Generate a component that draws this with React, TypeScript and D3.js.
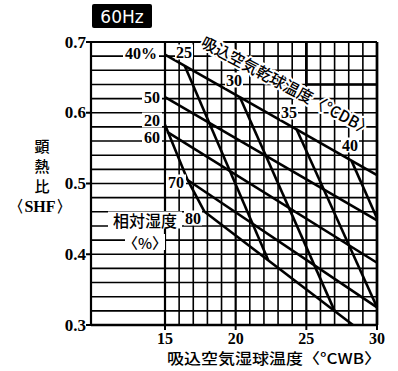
import React from "react";
import * as d3 from "d3";

// ---- data ----
const wbTicks = [15, 20, 25, 30];
const shfTicks = [0.3, 0.4, 0.5, 0.6, 0.7];
const wbGrid = d3.range(15, 31, 1);
const shfGrid = d3.range(0, 21).map((i) => +(0.3 + i * 0.02).toFixed(2));

// constant relative humidity lines [WB, SHF]
const rh40 = [[15, 0.682], [30, 0.512]];
const rh50 = [[15, 0.622], [30, 0.448]];
const rh60 = [[15.15, 0.573], [30, 0.388]];
const rh70 = [[16.6, 0.505], [30, 0.325]];
const rh80 = [[17.8, 0.46], [28.3, 0.3]];

// constant dry-bulb lines [WB, SHF]
const db20 = [[15, 0.583], [16.6, 0.505], [17.8, 0.46]];
const db25 = [[16.4, 0.666], [22.3, 0.392]];
const db30 = [[20.3, 0.622], [27.0, 0.32]];
const db35 = [[24.3, 0.577], [30, 0.325]];
const db40 = [[28.2, 0.532], [30, 0.451]];

const rhLines = [rh40, rh50, rh60, rh70, rh80];
const dbLines = [db20, db25, db30, db35, db40];

// heavier grid step seen at the upper right
const heavyStep = [[25, 0.7], [25, 0.64], [30, 0.64]];

const title = "60Hz";
const xTitle = "吸込空気湿球温度〈°CWB〉";
const yTitleChars = ["顕", "熱", "比"];
const yTitleUnit = "〈SHF〉";
const dbTitle = "吸込空気乾球温度〈°CDB〉";
const rhTitle = "相対湿度";
const rhUnit = "〈%〉";

const rhLabelText = ["40%", "50", "60", "70", "80"];
const dbLabelText = ["20", "25", "30", "35", "40"];

// ---- layout ----
const W = 398;
const H = 371;
const x = d3.scaleLinear().domain([15, 30]).range([165, 377]);
const y = d3.scaleLinear().domain([0.3, 0.7]).range([325, 42]);
const xLeft = 91;

const numFont = "'Liberation Serif', 'DejaVu Serif', serif";
const cjkFont = "'Noto Sans CJK JP', 'Noto Sans', sans-serif";

const line = d3
  .line<number[]>()
  .x((d) => x(d[0]))
  .y((d) => y(d[1]));

function Label({ cx, cy, text, w, h = 15, size = 16, font = numFont, weight = "bold" }: any) {
  return (
    <g>
      <rect x={cx - w / 2} y={cy - h / 2} width={w} height={h} fill="#fff" />
      <text
        x={cx}
        y={cy}
        textAnchor="middle"
        dominantBaseline="central"
        fontFamily={font}
        fontWeight={weight}
        fontSize={size}
        fill="#000"
      >
        {text}
      </text>
    </g>
  );
}

export default function App() {
  const [, x1] = x.range();
  const [yb, yt] = y.range();
  // label anchor points (pixel positions of text boxes)
  const rhLabelPos = [
    [141, 53, 36],
    [152, 97, 20],
    [152, 137, 20],
    [176, 182, 20],
    [193, 218, 18],
  ];
  const dbLabelPos = [
    [152, 120, 20],
    [184, 52, 18],
    [234, 80, 18],
    [289, 112, 18],
    [350, 145, 18],
  ];
  return (
    <svg
      width={W}
      height={H}
      style={{ position: "absolute", left: 0, top: 0, background: "#fff" }}
    >
      <rect width={W} height={H} fill="#fff" />
      {/* title badge */}
      <rect x={92} y={4} width={60} height={24} rx={2} fill="#000" />
      <text
        x={122}
        y={17}
        textAnchor="middle"
        dominantBaseline="central"
        fontFamily="'DejaVu Sans', sans-serif"
        fontSize={17}
        fill="#fff"
      >
        {title}
      </text>

      {/* horizontal grid */}
      {shfGrid.map((v) => (
        <line key={"h" + v} x1={xLeft} x2={x1} y1={y(v)} y2={y(v)} stroke="#000" strokeWidth={1.6} />
      ))}
      {/* vertical grid */}
      {wbGrid.map((v) => (
        <line
          key={"v" + v}
          x1={x(v)}
          x2={x(v)}
          y1={yt}
          y2={yb}
          stroke="#000"
          strokeWidth={v % 5 === 0 ? 2.2 : 1.6}
        />
      ))}
      <path d={line(heavyStep as any) || ""} fill="none" stroke="#000" strokeWidth={2.6} />
      {/* borders */}
      <line x1={xLeft} x2={xLeft} y1={yt} y2={yb} stroke="#000" strokeWidth={2.2} />
      <line x1={x1} x2={x1} y1={yt} y2={yb} stroke="#000" strokeWidth={2.6} />
      <line x1={xLeft} x2={x1} y1={yt} y2={yt} stroke="#000" strokeWidth={2.2} />
      <line x1={xLeft} x2={x1} y1={yb} y2={yb} stroke="#000" strokeWidth={2.6} />

      {/* y ticks */}
      {shfTicks.map((v) => (
        <g key={"yt" + v}>
          <line x1={xLeft - 5} x2={xLeft} y1={y(v)} y2={y(v)} stroke="#000" strokeWidth={2} />
          <text
            x={xLeft - 5}
            y={y(v)}
            textAnchor="end"
            dominantBaseline="central"
            fontFamily={numFont}
            fontWeight="bold"
            fontSize={17}
          >
            {v.toFixed(1)}
          </text>
        </g>
      ))}
      {/* x ticks */}
      {wbTicks.map((v) => (
        <g key={"xt" + v}>
          <line x1={x(v)} x2={x(v)} y1={yb} y2={yb + 5} stroke="#000" strokeWidth={2} />
          <text
            x={x(v)}
            y={338}
            textAnchor="middle"
            dominantBaseline="central"
            fontFamily={numFont}
            fontWeight="bold"
            fontSize={16}
          >
            {v}
          </text>
        </g>
      ))}

      {/* curves */}
      {rhLines.map((d, i) => (
        <path key={"rh" + i} d={line(d as any) || ""} fill="none" stroke="#000" strokeWidth={2.6} />
      ))}
      {dbLines.map((d, i) => (
        <path key={"db" + i} d={line(d as any) || ""} fill="none" stroke="#000" strokeWidth={2.6} />
      ))}

      {/* labels */}
      {rhLabelText.map((t, i) => (
        <Label key={"rl" + i} cx={rhLabelPos[i][0]} cy={rhLabelPos[i][1]} w={rhLabelPos[i][2]} text={t} />
      ))}
      {dbLabelText.map((t, i) => (
        <Label key={"dl" + i} cx={dbLabelPos[i][0]} cy={dbLabelPos[i][1]} w={dbLabelPos[i][2]} text={t} />
      ))}
      <Label cx={145} cy={220} w={74} h={17} text={rhTitle} font={cjkFont} weight={500} size={16} />
      <Label cx={145} cy={242} w={40} h={16} text={rhUnit} font={cjkFont} weight={500} size={15} />

      {/* diagonal DB title */}
      <text
        x={203}
        y={40}
        transform={`rotate(28 203 40)`}
        fontFamily={cjkFont}
        fontWeight={500}
        fontSize={16}
        dominantBaseline="central"
        stroke="#fff"
        strokeWidth={4}
        paintOrder="stroke"
        fill="#000"
        textLength={192}
        lengthAdjust="spacingAndGlyphs"
      >
        {dbTitle}
      </text>

      {/* y title */}
      {yTitleChars.map((c, i) => (
        <text
          key={"yc" + i}
          x={42}
          y={145 + i * 20}
          textAnchor="middle"
          dominantBaseline="central"
          fontFamily={cjkFont}
          fontWeight={500}
          fontSize={15}
        >
          {c}
        </text>
      ))}
      <text
        x={40}
        y={206}
        textAnchor="middle"
        dominantBaseline="central"
        fontFamily={numFont}
        fontWeight="bold"
        fontSize={16}
      >
        {yTitleUnit}
      </text>

      {/* x title */}
      <text
        x={167}
        y={357}
        dominantBaseline="central"
        fontFamily={cjkFont}
        fontWeight={500}
        fontSize={15}
        textLength={214}
        lengthAdjust="spacingAndGlyphs"
      >
        {xTitle}
      </text>
    </svg>
  );
}
